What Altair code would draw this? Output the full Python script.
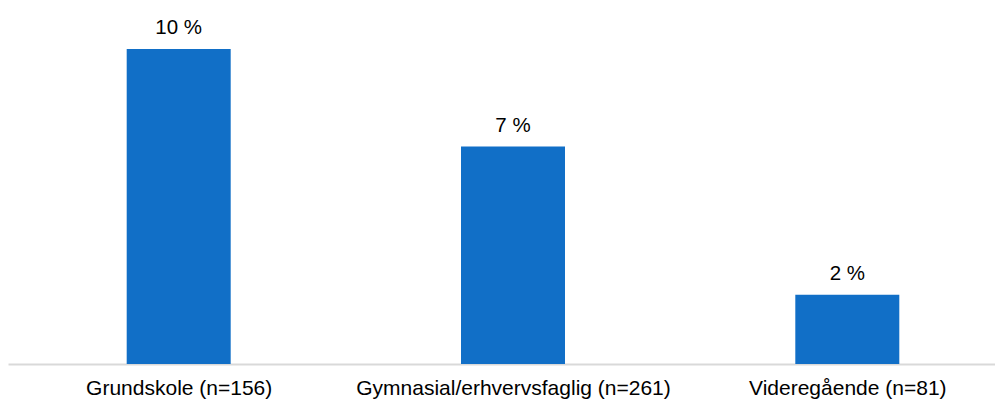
import altair as alt
import pandas as pd

categories = ["Grundskole (n=156)", "Gymnasial/erhvervsfaglig (n=261)", "Videregående (n=81)"]
values = [10.0, 6.9, 2.2]
labels = ["10 %", "7 %", "2 %"]

df = pd.DataFrame({"pos": list(range(len(categories))), "cat": categories, "val": values, "lab": labels})

FONT = "Liberation Sans"

label_expr = "[" + ",".join("'" + c + "'" for c in categories) + "][datum.value]"

x_scale = alt.Scale(domain=[-0.5106, 2.4418], nice=False, zero=False, padding=0)
y_scale = alt.Scale(domain=[0, 11.3], nice=False)

bars = alt.Chart(df).mark_bar(size=104, color="#116FC7").encode(
    x=alt.X(
        "pos:Q",
        title=None,
        scale=x_scale,
        axis=alt.Axis(
            values=[0, 1, 2],
            labelExpr=label_expr,
            labelFont=FONT,
            labelFontSize=21,
            labelColor="#000000",
            labelPadding=13,
            labelFlush=False,
            labelOverlap=False,
            labelBound=False,
            ticks=False,
            domain=True,
            domainColor="#d9d9d9",
            domainWidth=2,
            grid=False,
            labelLimit=0,
        ),
    ),
    y=alt.Y("val:Q", scale=y_scale, axis=None),
)

text = alt.Chart(df).mark_text(
    font=FONT, fontSize=20.5, color="#000000", baseline="alphabetic", dy=-15
).encode(
    x=alt.X("pos:Q", scale=x_scale),
    y=alt.Y("val:Q", scale=y_scale),
    text="lab:N",
)

chart = (
    alt.layer(bars, text)
    .properties(
        width=987,
        height=356,
        padding={"left": 0, "top": 0, "right": 0, "bottom": 36},
        autosize=alt.AutoSizeParams(type="none"),
    )
    .configure_view(stroke=None)
)

chart.save("out.html", embed_options={"renderer": "svg", "actions": False})
